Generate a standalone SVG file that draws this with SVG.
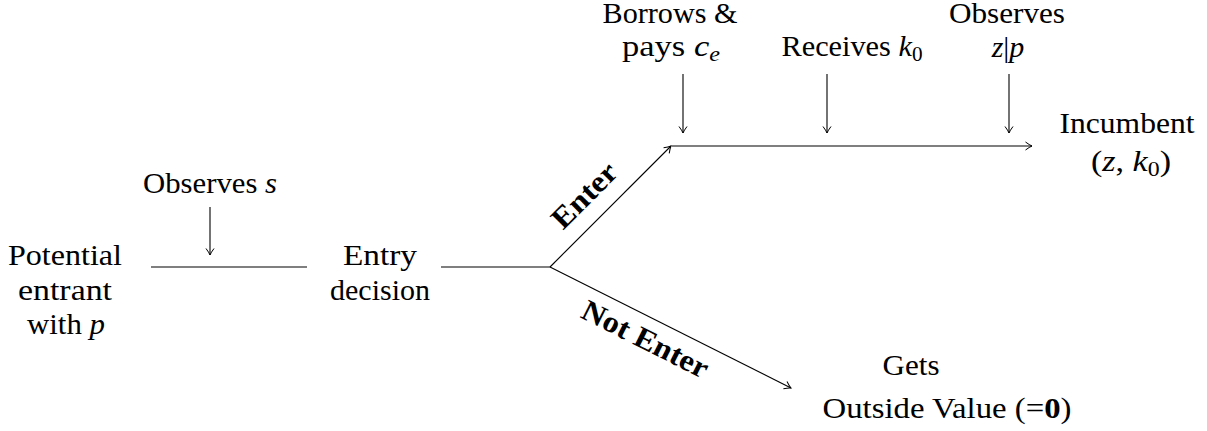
<svg xmlns="http://www.w3.org/2000/svg" width="1207" height="431" viewBox="0 0 1207 431">
<defs>
<marker id="arr" markerUnits="userSpaceOnUse" markerWidth="12" markerHeight="12" viewBox="-8 -6 10 12" refX="0" refY="0" orient="auto">
<path d="M -6.5 -4 Q -2.5 -1 0 0 Q -2.5 1 -6.5 4" fill="none" stroke="#000" stroke-width="1"/>
</marker>
<style>
text{font-family:"Liberation Serif","Times New Roman",serif;font-size:30px;fill:#000;text-anchor:middle}
.i{font-style:italic}
.sub{font-size:21px}
.b{font-weight:bold}
.ln{stroke:#000;stroke-width:1.1;fill:none}
.ar{stroke:#000;stroke-width:1.1;fill:none;marker-end:url(#arr)}
</style>
</defs>
<rect width="1207" height="431" fill="#fff"/>
<g id="connectors">
<line class="ln" x1="151" y1="267" x2="307" y2="267"/>
<line class="ln" x1="441" y1="267" x2="550" y2="267"/>
<line class="ar" x1="210" y1="207" x2="210" y2="255"/>
<line class="ar" x1="550" y1="267" x2="671" y2="146"/>
<line class="ar" x1="550" y1="267" x2="791" y2="388"/>
<line class="ar" x1="672" y1="146" x2="1032" y2="146"/>
<line class="ar" x1="683" y1="74" x2="683" y2="133"/>
<line class="ar" x1="827" y1="74" x2="827" y2="133"/>
<line class="ar" x1="1009" y1="74" x2="1009" y2="133"/>
<text class="b" transform="translate(585,196) rotate(-45)" y="9" textLength="80" lengthAdjust="spacingAndGlyphs">Enter</text>
<text class="b" transform="translate(645,340) rotate(26.66)" y="9" textLength="138" lengthAdjust="spacingAndGlyphs">Not Enter</text>
</g>
<g id="potential-entrant">
<text x="65" y="265" textLength="114" lengthAdjust="spacingAndGlyphs">Potential</text>
<text x="65" y="300" textLength="94" lengthAdjust="spacingAndGlyphs">entrant</text>
<text x="66" y="334" textLength="78" lengthAdjust="spacingAndGlyphs">with <tspan class="i">p</tspan></text>
</g>
<g id="observes-s">
<text x="210" y="193" textLength="134" lengthAdjust="spacingAndGlyphs">Observes <tspan class="i">s</tspan></text>
</g>
<g id="entry-decision">
<text x="380" y="265" textLength="74" lengthAdjust="spacingAndGlyphs">Entry</text>
<text x="380" y="300" textLength="100" lengthAdjust="spacingAndGlyphs">decision</text>
</g>
<g id="borrows">
<text x="670" y="23" textLength="135" lengthAdjust="spacingAndGlyphs">Borrows &amp;</text>
<text x="671" y="56" textLength="98" lengthAdjust="spacingAndGlyphs">pays <tspan class="i">c</tspan><tspan class="i sub" dy="5">e</tspan></text>
</g>
<g id="receives">
<text x="852" y="56" textLength="141" lengthAdjust="spacingAndGlyphs">Receives <tspan class="i">k</tspan><tspan class="sub" dy="5">0</tspan></text>
</g>
<g id="observes-zp">
<text x="1007" y="23" textLength="116" lengthAdjust="spacingAndGlyphs">Observes</text>
<text x="1008" y="57"><tspan class="i">z</tspan>|<tspan class="i">p</tspan></text>
</g>
<g id="incumbent">
<text x="1127" y="133" textLength="135" lengthAdjust="spacingAndGlyphs">Incumbent</text>
<text x="1131" y="171" textLength="80" lengthAdjust="spacingAndGlyphs">(<tspan class="i">z</tspan>, <tspan class="i">k</tspan><tspan class="sub" dy="5">0</tspan><tspan dy="-5">)</tspan></text>
</g>
<g id="outside">
<text x="911" y="375" textLength="57" lengthAdjust="spacingAndGlyphs">Gets</text>
<text x="947" y="418" textLength="249" lengthAdjust="spacingAndGlyphs">Outside Value (=<tspan class="b">0</tspan>)</text>
</g>
</svg>
